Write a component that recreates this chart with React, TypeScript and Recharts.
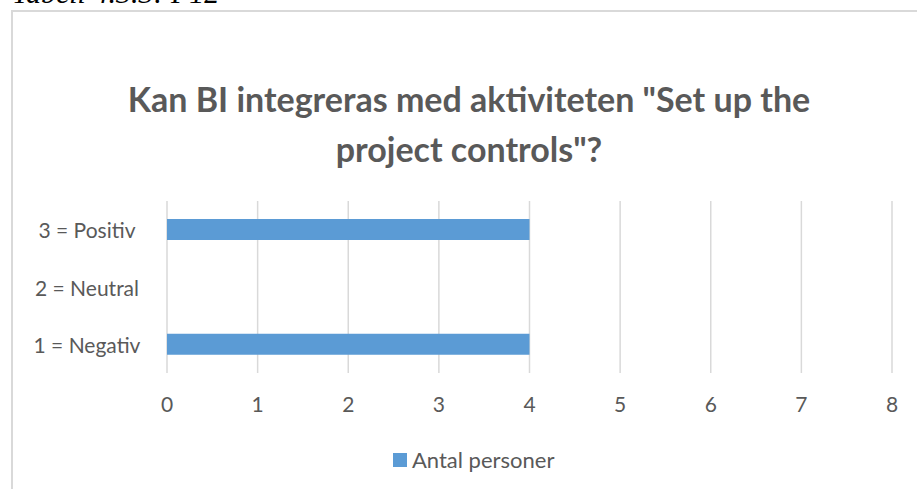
import React from 'react';
import { BarChart, Bar, XAxis, YAxis, CartesianGrid, Legend } from 'recharts';

const categories = ['3 = Positiv', '2 = Neutral', '1 = Negativ'];
const antalPersoner = [4, 0, 4];
const xTicks = [0, 1, 2, 3, 4, 5, 6, 7, 8];

const data = categories.map((name, i) => ({ name, antal: antalPersoner[i] }));

const FONT = 'Lato, "Open Sans", sans-serif';
const TEXT = '#595959';
const BLUE = '#5b9bd5';

const CategoryTick = (props: any) => {
    const { y, payload } = props;
    return (
        <text x={87} y={y} textAnchor="middle" dominantBaseline="central" fill={TEXT} fontSize={21} fontFamily={FONT}>
            {payload.value}
        </text>
    );
};

const LegendContent = () => (
    <div style={{ display: 'flex', alignItems: 'center', fontFamily: FONT, fontSize: 22, color: TEXT, whiteSpace: 'nowrap' }}>
        <span style={{ display: 'inline-block', width: 14, height: 14, background: BLUE, marginRight: 5 }} />
        <span>Antal personer</span>
    </div>
);

export default function App() {
    return (
        <div style={{ position: 'absolute', left: 0, top: 0, width: 917, height: 489, overflow: 'hidden', background: '#fff' }}>
            {/* caption above the chart, cut off at the top like in the source */}
            <div style={{ position: 'absolute', left: 12, top: -22, fontFamily: '"Liberation Serif", serif', fontStyle: 'italic', fontSize: 30, lineHeight: '30px', color: '#000', whiteSpace: 'nowrap' }}>
                Tabell 4.3.3: P12
            </div>
            <div style={{ position: 'absolute', left: 11, top: 10, width: 1000, height: 1000, border: '2px solid #d9d9d9' }} />
            <div style={{ position: 'absolute', left: 0, top: 74, width: 938, textAlign: 'center', fontFamily: FONT, fontWeight: 700, fontSize: 34, lineHeight: '50px', color: TEXT }}>
                Kan BI integreras med aktiviteten "Set up the
                <br />
                project controls"?
            </div>
            <div style={{ position: 'absolute', left: 0, top: 0 }}>
                <BarChart width={917} height={489} data={data} layout="vertical" margin={{ top: 201, right: 25, bottom: 86, left: 0 }}>
                    <CartesianGrid horizontal={false} stroke="#d9d9d9" strokeWidth={1.5} />
                    <XAxis type="number" domain={[0, 8]} ticks={xTicks} height={30} axisLine={false} tickLine={false} tickSize={0} tickMargin={24} interval={0} tick={{ fill: TEXT, fontSize: 21, fontFamily: FONT }} />
                    <YAxis type="category" dataKey="name" width={167} axisLine={false} tickLine={false} tick={<CategoryTick />} />
                    <Legend layout="vertical" align="center" verticalAlign="middle" content={<LegendContent />} wrapperStyle={{ left: 393, top: 446, width: 'auto' }} />
                    <Bar dataKey="antal" name="Antal personer" fill={BLUE} barSize={21} isAnimationActive={false} />
                </BarChart>
            </div>
        </div>
    );
}
